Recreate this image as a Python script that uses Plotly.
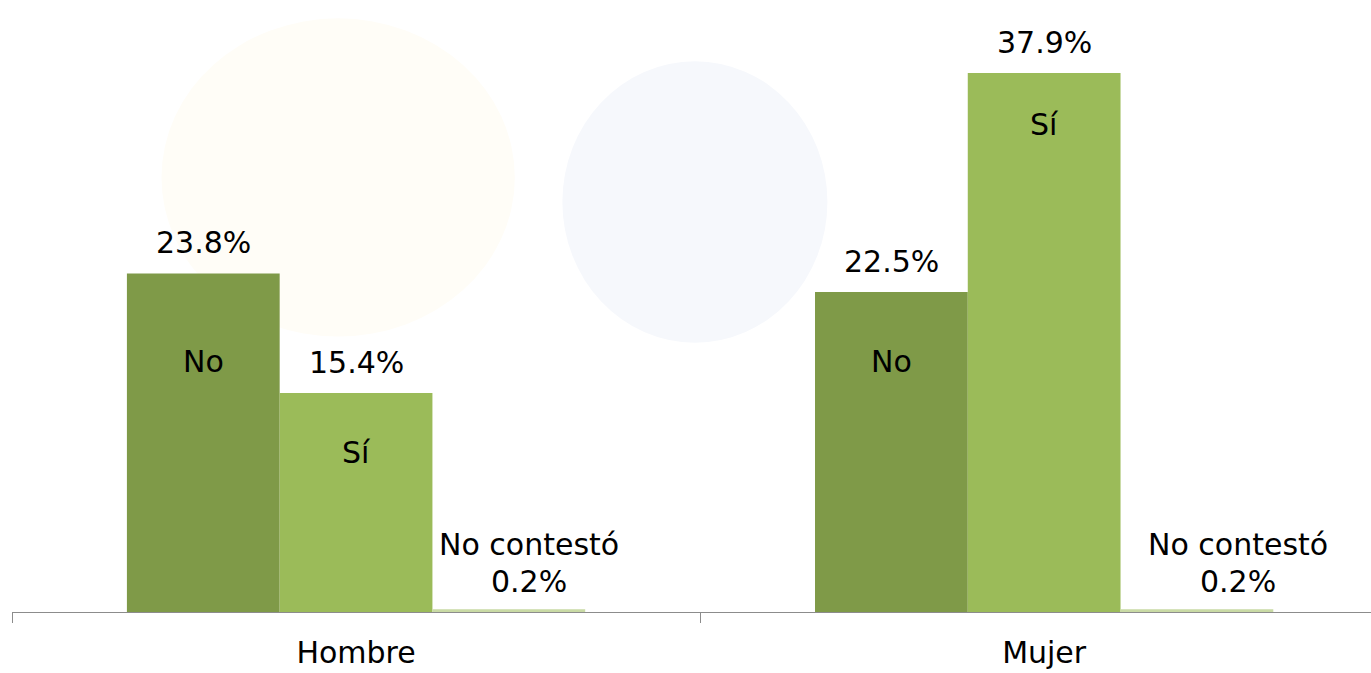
import plotly.graph_objects as go

categories = ["Hombre", "Mujer"]
series_names = ["No", "Sí", "No contestó"]
values_no = [23.8, 22.5]
values_si = [15.4, 37.9]
values_nc = [0.2, 0.2]
series_values = [values_no, values_si, values_nc]
colors = ["#7F9A48", "#9BBB59", "#C9DAA5"]

# label layout: inner series-name label heights (data units) and horizontal nudges (px) for "No contestó"
inner_label_y = {"No": [17.6, 17.6], "Sí": [11.2, 34.3]}
nc_label_xshift = [20, 41]

FONT = "DejaVu Sans"
FS = 30
bargap = 0.334
bw = (1 - bargap) / 3

fig = go.Figure()
for name, vals, col in zip(series_names, series_values, colors):
    fig.add_trace(go.Bar(name=name, x=categories, y=vals, marker=dict(color=col, line=dict(width=0)),
                         hoverinfo="skip"))

annotations = []
for si, (name, vals) in enumerate(zip(series_names, series_values)):
    for ci, v in enumerate(vals):
        xpos = ci + (si - 1) * bw
        xs = nc_label_xshift[ci] if name not in inner_label_y else 0
        annotations.append(dict(x=xpos, y=v, xref="x", yref="y", text=f"{v:.1f}%",
                                showarrow=False, yanchor="middle", yshift=31 if si < 2 else 28,
                                xshift=xs, font=dict(family=FONT, size=FS, color="#000")))
        if name in inner_label_y:
            annotations.append(dict(x=xpos, y=inner_label_y[name][ci], xref="x", yref="y", text=name,
                                    showarrow=False, yanchor="middle",
                                    font=dict(family=FONT, size=FS, color="#000")))
        else:
            annotations.append(dict(x=xpos, y=v, xref="x", yref="y", text=name,
                                    showarrow=False, yanchor="middle", yshift=65, xshift=xs,
                                    font=dict(family=FONT, size=FS, color="#000")))

shapes = [
    dict(type="circle", xref="paper", yref="paper", x0=0.405, x1=0.600, y0=0.44, y1=0.90,
         fillcolor="#F6F8FC", line=dict(width=0), layer="below"),
    dict(type="circle", xref="paper", yref="paper", x0=0.11, x1=0.37, y0=0.45, y1=0.97,
         fillcolor="#FFFDF7", line=dict(width=0), layer="below"),
]

fig.update_layout(
    width=1371, height=673,
    margin=dict(l=12, r=0, t=0, b=61),
    barmode="group", bargap=bargap, bargroupgap=0,
    paper_bgcolor="white", plot_bgcolor="rgba(0,0,0,0)",
    showlegend=False,
    annotations=annotations,
    shapes=shapes,
    font=dict(family=FONT, size=FS, color="#000"),
    xaxis=dict(type="category", range=[-0.5, 1.475], showline=True, linecolor="#8C8C8C", linewidth=1,
               ticks="outside", tickson="boundaries", ticklen=10, tickcolor="#8C8C8C",
               ticklabelstandoff=14,
               showgrid=False, tickfont=dict(family=FONT, size=FS, color="#000"), fixedrange=True),
    yaxis=dict(range=[0, 43.04], visible=False, showgrid=False, zeroline=False, fixedrange=True),
)

fig.write_html("out.html", config={"displayModeBar": False},
               post_script="document.body.style.margin='0';document.body.style.overflow='hidden';")
